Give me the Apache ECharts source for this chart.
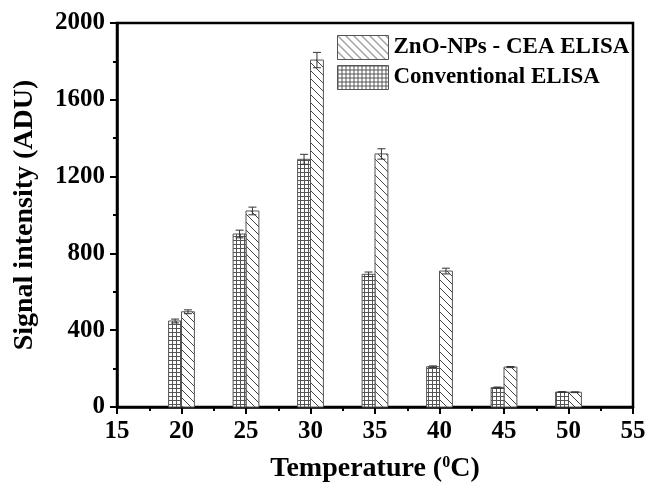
<!DOCTYPE html>
<html><head><meta charset="utf-8">
<script src="https://cdn.jsdelivr.net/npm/echarts@6/dist/echarts.min.js"></script>
<style>html,body{margin:0;padding:0;background:#fff}#c{width:649px;height:482px}</style>
</head><body><div id="c"></div>
<script>
var temperatures = [20, 25, 30, 35, 40, 45, 50];
var conventional = [448, 901, 1290, 691, 210, 101, 78];
var conventionalErr = [10, 20, 26, 12, 4, 3, 2];
var znoNps = [496, 1021, 1807, 1318, 708, 208, 77];
var znoNpsErr = [10, 20, 40, 27, 15, 3, 2];
var xTicks = [15, 20, 25, 30, 35, 40, 45, 50, 55];
var yTicks = [0, 400, 800, 1200, 1600, 2000];

function gridPattern() {
  var c = document.createElement('canvas'); c.width = 4; c.height = 4;
  var g = c.getContext('2d');
  g.fillStyle = '#fff'; g.fillRect(0, 0, 4, 4);
  g.fillStyle = '#555';
  g.fillRect(0, 0, 4, 1); g.fillRect(0, 0, 1, 4);
  return c;
}
function hatchPattern() {
  var s = 8;
  var c = document.createElement('canvas'); c.width = s; c.height = s;
  var g = c.getContext('2d');
  g.fillStyle = '#fff'; g.fillRect(0, 0, s, s);
  g.strokeStyle = '#444'; g.lineWidth = 1;
  g.beginPath();
  g.moveTo(-1, -1); g.lineTo(s + 1, s + 1);
  g.moveTo(-1, s - 1); g.lineTo(1, s + 1);
  g.moveTo(s - 1, -1); g.lineTo(s + 1, 1);
  g.stroke();
  return c;
}
var convFill = { image: gridPattern(), repeat: 'repeat' };
var znoFill = { image: hatchPattern(), repeat: 'repeat' };

function makeData(vals, errs) {
  return temperatures.map(function (t, i) { return [t, vals[i], errs[i]]; });
}
function renderer(side, fill) {
  return function (params, api) {
    var x = api.value(0), y = api.value(1), e = api.value(2);
    var base = api.coord([x, 0]);
    var top = api.coord([x, y]);
    var w = api.size([1, 0])[0];
    var x0 = side < 0 ? base[0] - w : base[0];
    var cx = x0 + w / 2;
    var yHi = api.coord([x, y + e])[1];
    var yLo = api.coord([x, y - e])[1];
    var cap = 4;
    return {
      type: 'group',
      children: [
        { type: 'rect', shape: { x: x0, y: top[1], width: w, height: base[1] - top[1] },
          style: { fill: fill, stroke: '#555', lineWidth: 1 } },
        { type: 'line', shape: { x1: cx, y1: yHi, x2: cx, y2: yLo }, style: { stroke: '#333', lineWidth: 1 } },
        { type: 'line', shape: { x1: cx - cap, y1: yHi, x2: cx + cap, y2: yHi }, style: { stroke: '#333', lineWidth: 1 } },
        { type: 'line', shape: { x1: cx - cap, y1: yLo, x2: cx + cap, y2: yLo }, style: { stroke: '#333', lineWidth: 1 } }
      ]
    };
  };
}
var font = '"Liberation Serif", "Times New Roman", serif';
var chart = echarts.init(document.getElementById('c'), null, { renderer: 'canvas' });
chart.setOption({
  animation: false,
  backgroundColor: '#fff',
  grid: { left: 117, right: 16, top: 23, bottom: 75, outerBoundsMode: 'none', containLabel: false,
    show: true, borderColor: '#000', borderWidth: 2.5, backgroundColor: 'transparent' },
  legend: {
    orient: 'vertical', left: 332, top: 30, itemWidth: 51, itemHeight: 24, itemGap: 5,
    data: [
      { name: 'ZnO-NPs - CEA ELISA', icon: 'rect', itemStyle: { color: znoFill, borderColor: '#555', borderWidth: 1 } },
      { name: 'Conventional ELISA', icon: 'rect', itemStyle: { color: convFill, borderColor: '#555', borderWidth: 1 } }
    ],
    textStyle: { fontFamily: font, fontWeight: 'bold', fontSize: 23, color: '#000' }
  },
  xAxis: {
    type: 'value', min: 15, max: 55, interval: 5,
    axisLine: { show: true, lineStyle: { color: '#000', width: 2.5 } },
    axisTick: { show: true, length: 7, lineStyle: { color: '#000', width: 2 } },
    minorTick: { show: true, splitNumber: 2, length: 4, lineStyle: { color: '#000', width: 2 } },
    splitLine: { show: false },
    axisLabel: { fontFamily: font, fontWeight: 'bold', fontSize: 25, color: '#000', margin: 12,
      formatter: function (v) { return xTicks.indexOf(v) >= 0 ? String(v) : ''; } },
    name: 'Temperature ({sup|0}C)', nameLocation: 'middle', nameGap: 48,
    nameTextStyle: { fontFamily: font, fontWeight: 'bold', fontSize: 28, color: '#000',
      rich: { sup: { fontFamily: font, fontWeight: 'bold', fontSize: 16, color: '#000', verticalAlign: 'top', padding: [0, 0, 12, 0] } } }
  },
  yAxis: {
    type: 'value', min: 0, max: 2000, interval: 400,
    axisLine: { show: true, lineStyle: { color: '#000', width: 2.5 } },
    axisTick: { show: true, length: 7, lineStyle: { color: '#000', width: 2 } },
    minorTick: { show: true, splitNumber: 2, length: 4, lineStyle: { color: '#000', width: 2 } },
    splitLine: { show: false },
    axisLabel: { fontFamily: font, fontWeight: 'bold', fontSize: 25, color: '#000', margin: 12,
      formatter: function (v) { return yTicks.indexOf(v) >= 0 ? String(v) : ''; } },
    name: 'Signal intensity (ADU)', nameLocation: 'middle', nameGap: 78,
    nameTextStyle: { fontFamily: font, fontWeight: 'bold', fontSize: 28, color: '#000' }
  },
  series: [
    { name: 'ZnO-NPs - CEA ELISA', type: 'custom', renderItem: renderer(1, znoFill),
      itemStyle: { color: znoFill }, encode: { x: 0, y: 1 }, data: makeData(znoNps, znoNpsErr) },
    { name: 'Conventional ELISA', type: 'custom', renderItem: renderer(-1, convFill),
      itemStyle: { color: convFill }, encode: { x: 0, y: 1 }, data: makeData(conventional, conventionalErr) }
  ]
});
</script></body></html>
